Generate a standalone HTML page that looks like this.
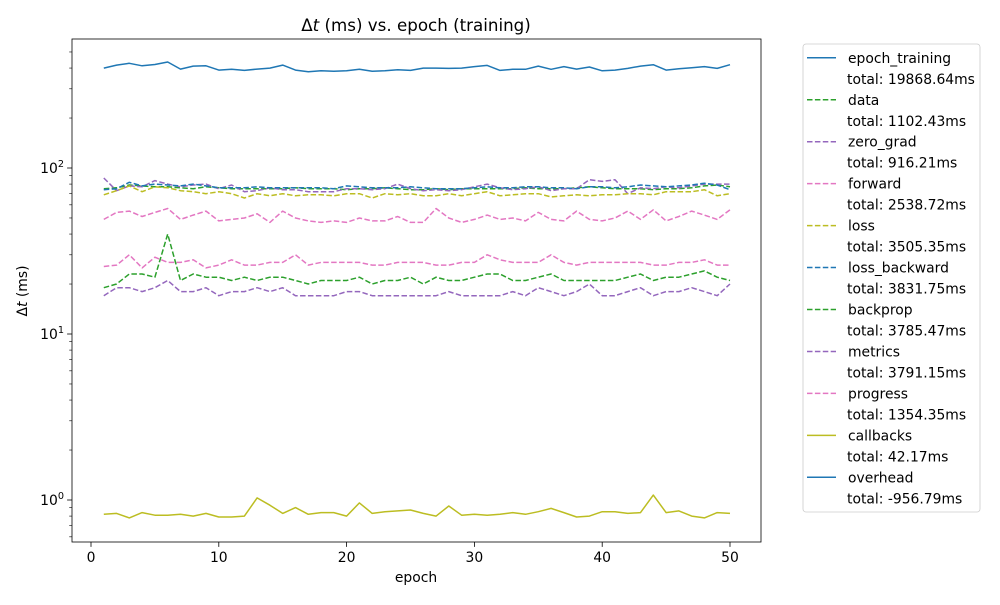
<!DOCTYPE html>
<html><head><meta charset="utf-8"><style>
body{margin:0;background:#fff;font-family:"Liberation Sans","DejaVu Sans",sans-serif;}
svg text{font-family:"DejaVu Sans","Liberation Sans",sans-serif;}
</style></head><body>
<svg id="chart" width="1000" height="600" xmlns="http://www.w3.org/2000/svg"></svg>
<script>
const epochs = Array.from({length:50},(_, i)=>i+1);
const epochTraining=[400,417,427,413,420,435,394,411,413,389,393,387,394,400,417,389,380,385,383,385,393,383,385,391,387,400,400,398,400,408,415,387,393,393,411,393,408,394,406,385,389,398,411,419,389,396,402,408,398,419];
const dataS=[75,76,79,78,77,77,76,75,77,76,75,75,75,75,75,76,75,75,75,74,75,75,76,75,74,74,75,74,75,75,75,75,75,76,75,75,75,76,77,76,75,75,75,74,75,75,76,78,79,77];
const zeroGrad=[87,73,78,77,84,80,77,79,80,75,79,72,73,76,74,74,72,72,72,75,75,74,75,80,75,73,74,73,74,77,80,76,74,75,77,73,75,75,85,83,85,70,76,75,77,76,78,80,80,80];
const forward=[49,54,55,51,54,57,49,52,55,48,49,50,53,47,55,50,48,47,48,47,50,48,48,51,47,47,57,50,47,49,52,49,50,48,54,49,48,55,49,48,50,55,49,56,48,51,55,52,49,56];
const loss=[69,73,78,72,77,76,73,72,70,72,70,66,70,68,70,68,69,69,68,70,70,66,70,69,70,68,68,70,68,70,72,68,69,70,70,67,68,69,68,69,69,70,70,69,72,72,72,74,68,70];
const lossBackward=[74,75,82,78,80,79,78,80,78,76,76,76,77,76,76,76,76,76,75,78,77,76,76,76,77,76,75,75,75,76,77,76,76,77,77,76,76,75,77,77,76,77,79,78,77,78,79,81,79,74];
const backprop=[19,20,23,23,22,40,21,23,22,22,21,22,21,22,22,21,20,21,21,21,22,20,21,21,22,20,22,21,21,22,23,23,21,21,22,23,21,21,21,21,21,22,23,21,22,22,23,24,22,21];
const metrics=[17,19,19,18,19,21,18,18,19,17,18,18,19,18,19,17,17,17,17,18,18,17,17,17,17,17,17,18,17,17,17,17,18,17,19,18,17,18,20,17,17,18,19,17,18,18,19,18,17,20];
const progress=[25.5,26,30,25,29,27,27,28,25,26,28,26,26,27,27,30,26,27,27,27,27,26,26,27,27,27,26,26,27,27,30,28,27,27,27,30,27,26,27,27,27,27,27,26,26,27,27,28,26,26];
const callbacks=[0.82,0.83,0.78,0.84,0.81,0.81,0.82,0.80,0.83,0.79,0.79,0.80,1.03,0.93,0.83,0.90,0.82,0.84,0.84,0.80,0.96,0.83,0.85,0.86,0.87,0.83,0.80,0.92,0.81,0.82,0.81,0.82,0.84,0.82,0.85,0.89,0.84,0.79,0.80,0.85,0.85,0.83,0.84,1.07,0.84,0.86,0.80,0.78,0.84,0.83];
const overhead=[];
const seriesNames=["epoch_training","data","zero_grad","forward","loss","loss_backward","backprop","metrics","progress","callbacks","overhead"];
const totals=["19868.64ms","1102.43ms","916.21ms","2538.72ms","3505.35ms","3831.75ms","3785.47ms","3791.15ms","1354.35ms","42.17ms","-956.79ms"];
const xTicks=[0,10,20,30,40,50];
const yTicks=[1,10,100];
const yTickLabels=["0","1","2"];

const series=[[epochTraining,"#1f77b4",false],[dataS,"#2ca02c",true],[zeroGrad,"#9467bd",true],[forward,"#e377c2",true],[loss,"#bcbd22",true],[lossBackward,"#1f77b4",true],[backprop,"#2ca02c",true],[metrics,"#9467bd",true],[progress,"#e377c2",true],[callbacks,"#bcbd22",false],[overhead,"#1f77b4",false]];

const L=72,R=761,T=39,B=542;
const X=v=>91+(v)*(730-91)/50;
const Y=v=>500-Math.log10(v)*166;
const svg=document.getElementById('chart');
const NS="http://www.w3.org/2000/svg";
function mk(tag,attrs,parent){const e=document.createElementNS(NS,tag);for(const k in attrs)e.setAttribute(k,attrs[k]);(parent||svg).appendChild(e);return e;}

const clip=mk('clipPath',{id:'cp'});mk('rect',{x:L,y:T,width:R-L,height:B-T},clip);
const plot=mk('g',{'clip-path':'url(#cp)'});



series.forEach((s,i)=>{
  if(!s[0].length)return;
  const pts=s[0].map((v,j)=>X(epochs[j]).toFixed(1)+','+Y(v).toFixed(1)).join(' ');
  const p=mk('polyline',{points:pts,fill:'none',stroke:s[1],'stroke-width':1.5,'stroke-dasharray':s[2]?'5.5,2.4':'none','stroke-linejoin':'round'},plot);
  
  
});

const frame=mk('rect',{x:L,y:T,width:R-L,height:B-T,fill:'none',stroke:'#000','stroke-width':0.8});



xTicks.forEach(t=>{
  mk('line',{x1:X(t),x2:X(t),y1:B,y2:B+4.9,stroke:'#000','stroke-width':0.8});
  const tx=mk('text',{x:X(t),y:B+20,'font-size':13.9,'text-anchor':'middle'});tx.textContent=t;
  
  
});
for(let d=-1;d<=2;d++){for(let m=2;m<=9;m++){const v=m*Math.pow(10,d);const y=Y(v);if(y>T&&y<B)mk('line',{x1:L-2.8,x2:L,y1:y,y2:y,stroke:'#000','stroke-width':0.6});}}
yTicks.forEach((t,i)=>{
  const y=Y(t);
  mk('line',{x1:L-4.9,x2:L,y1:y,y2:y,stroke:'#000','stroke-width':0.8});
  const tx=mk('text',{x:L-8,y:y+5,'font-size':13.9,'text-anchor':'end'});
  
  
  tx.appendChild(document.createTextNode('10'));
  const sup=mk('tspan',{dy:-6,'font-size':9.7},tx);sup.textContent=yTickLabels[i];
});

const title=mk('text',{x:416,y:31,'font-size':16.7,'text-anchor':'middle'});


title.innerHTML='Δ<tspan font-style="italic">t</tspan> (ms) vs. epoch (training)';
const xl=mk('text',{x:416,y:582,'font-size':13.9,'text-anchor':'middle'});xl.textContent='epoch';


const yl=mk('text',{x:0,y:0,'font-size':13.9,'text-anchor':'middle',transform:'translate(27,291) rotate(-90)'});


yl.innerHTML='Δ<tspan font-style="italic">t</tspan> (ms)';

const lg=mk('g',{});


mk('rect',{x:803,y:44,width:177,height:468,rx:3,fill:'#fff',stroke:'#ccc','stroke-width':0.8},lg);
series.forEach((s,i)=>{
  const y=57.8+i*41.95;
  const ln=mk('line',{x1:807,x2:836,y1:y,y2:y,stroke:s[1],'stroke-width':1.5,'stroke-dasharray':s[2]?'5.5,2.4':'none'},lg);
  
  
  const t=mk('text',{x:848,y:y+5,'font-size':13.9},lg);t.textContent=seriesNames[i];
  
  
  const t2=mk('text',{x:847,y:y+26,'font-size':13.9},lg);t2.textContent='total: '+totals[i];
  
  
});
</script>
</body></html>
